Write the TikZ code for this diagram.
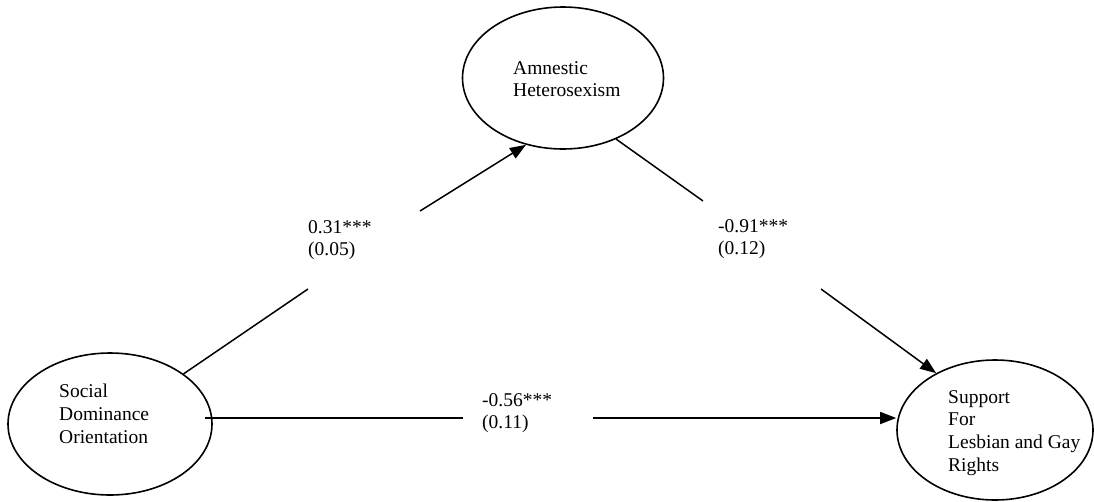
\documentclass[tikz,border=0pt]{standalone}
\usepackage{fontspec}
\setmainfont{Liberation Serif}
\usetikzlibrary{arrows.meta,shapes.geometric,calc}

\begin{document}
\begin{tikzpicture}[
  x=1pt,y=-1pt,
  font=\fontsize{19.5}{22.8}\selectfont,
  latent/.style={draw,ellipse,line width=1.6pt,inner sep=0pt},
  lbl/.style={anchor=north west,align=left,inner sep=0pt},
  link/.style={line width=1.5pt},
  arr/.style={link,-{Triangle[length=16pt,width=12pt]}}]
\useasboundingbox (0,0) rectangle (1094,501);
% latent variables
\node[latent,minimum width=201pt,minimum height=142pt] (ah) at (563,78) {};
\node[latent,minimum width=204pt,minimum height=142pt] (sdo) at (110,424) {};
\node[latent,minimum width=196pt,minimum height=140pt] (slgr) at (995,430) {};
\node[lbl] (ahtext) at (513,61) {Amnestic\\Heterosexism};
\node[lbl] (sdotext) at (59,384) {Social\\Dominance\\Orientation};
\node[lbl] (slgrtext) at (948,390) {Support\\For\\Lesbian and Gay\\Rights};
% gaps left for the path coefficients
\coordinate (g1a) at (308,289);
\coordinate (g1b) at (420,211);
\coordinate (g2a) at (703,201);
\coordinate (g2b) at (821,289);
\coordinate (g3a) at (463,418);
\coordinate (g3b) at (593,418);
\node[lbl] (c1) at (308,220) {0.31***\\(0.05)};
\node[lbl] (c2) at (718,219) {-0.91***\\(0.12)};
\node[lbl] (c3) at (482,393) {-0.56***\\(0.11)};
% paths
\draw[link] (sdo) -- (g1a);
\draw[arr] (g1b) -- (ah.241);
\draw[link] (ah.311) -- (g2a);
\draw[arr] (g2b) -- (slgr.136);
\draw[link] ([xshift=-8pt,yshift=6pt]sdo.east) -- (g3a);
\draw[arr] (g3b) -- (slgr.west |- g3b);
\end{tikzpicture}
\end{document}
